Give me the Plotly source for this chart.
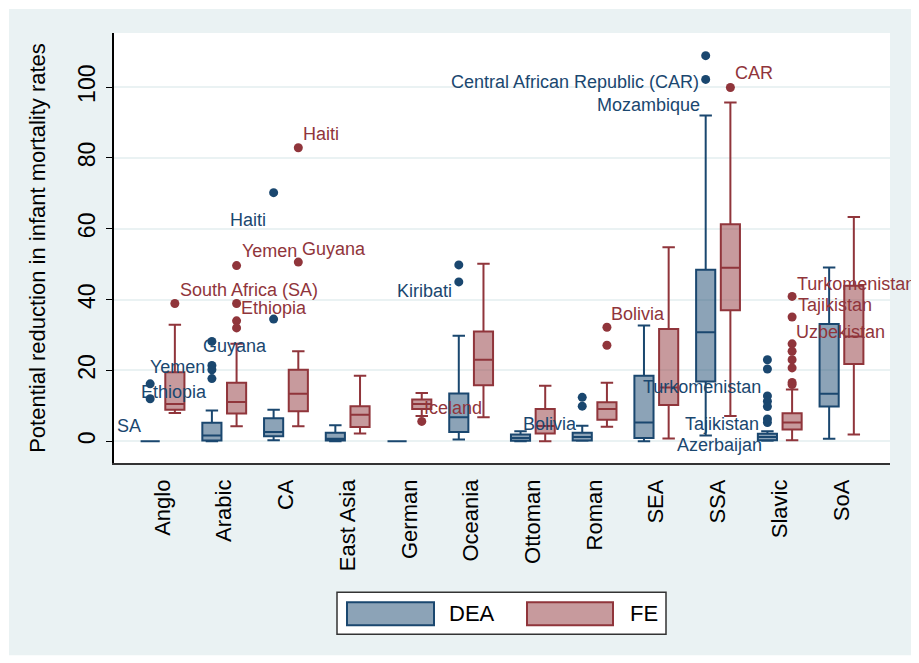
import numpy as np
import plotly.graph_objects as go

# ── Data ──────────────────────────────────────────────────────────────────────
CATEGORIES = ["Anglo", "Arabic", "CA", "East Asia", "German", "Oceania",
              "Ottoman", "Roman", "SEA", "SSA", "Slavic", "SoA"]

DEA_LOWER  = [0.0, 0.0, 0.3, 0.0, 0.0, 0.5, 0.0, 0.1, 0.0, 1.6, 0.1, 0.7]
DEA_Q1     = [0.0, 0.2, 1.4, 0.2, 0.0, 2.6, 0.1, 0.2, 0.9, 16.9, 0.3, 9.8]
DEA_MEDIAN = [0.0, 1.6, 2.6, 0.7, 0.0, 6.8, 0.9, 1.2, 5.3, 30.8, 1.2, 13.4]
DEA_Q3     = [0.0, 5.2, 6.5, 2.4, 0.0, 13.5, 1.9, 2.4, 18.5, 48.4, 2.1, 33.1]
DEA_UPPER  = [0.0, 8.7, 8.9, 4.5, 0.0, 29.8, 2.8, 4.4, 32.7, 92.0, 2.8, 49.1]

FE_LOWER  = [8.0, 4.2, 4.2, 2.2, 7.1, 6.8, 0.0, 4.1, 0.8, 7.1, 0.3, 1.9]
FE_Q1     = [8.9, 7.8, 8.5, 4.0, 9.1, 15.8, 2.2, 6.1, 10.2, 37.0, 3.3, 21.8]
FE_MEDIAN = [10.5, 11.1, 13.4, 7.5, 10.5, 23.0, 4.3, 9.1, 15.2, 49.0, 5.3, 29.6]
FE_Q3     = [19.5, 16.5, 20.2, 9.9, 11.8, 31.0, 9.1, 11.0, 31.7, 61.3, 7.9, 43.9]
FE_UPPER  = [32.9, 27.5, 25.4, 18.5, 13.6, 50.1, 15.7, 16.5, 54.8, 95.7, 14.6, 63.3]

DEA_OUTLIERS = {
    "Anglo":   [16.2, 12.0],
    "Arabic":  [28.2, 21.4, 20.2, 17.7],
    "CA":      [70.2, 34.5],
    "Oceania": [49.8, 45.0],
    "Roman":   [12.4, 9.9],
    "SSA":     [108.9, 102.2],
    "Slavic":  [23.0, 20.4, 12.8, 11.3, 9.8, 6.3, 5.3],
}
FE_OUTLIERS = {
    "Anglo":   [38.9],
    "Arabic":  [49.6, 38.9, 34.0, 32.0],
    "CA":      [82.9, 50.6],
    "German":  [5.6],
    "Roman":   [32.2, 27.1],
    "SSA":     [99.9],
    "Slavic":  [40.9, 35.1, 27.5, 25.4, 23.0, 20.7, 16.6, 16.0],
}

# outlier labels: (text, x in category units, y)
DEA_LABELS = [
    ("SA", -0.54, 4.4), ("Yemen", 0.24, 20.9), ("Ethiopia", 0.19, 13.8),
    ("Guyana", 1.17, 26.8), ("Haiti", 1.38, 62.5), ("Kiribati", 4.24, 42.3),
    ("Bolivia", 6.27, 4.9), ("Central African Republic (CAR)", 6.69, 101.6),
    ("Mozambique", 7.88, 95.0), ("Turkomenistan", 8.74, 15.3),
    ("Tajikistan", 9.06, 5.0), ("Azerbaijan", 9.02, -1.1),
]
FE_LABELS = [
    ("South Africa (SA)", 1.40, 42.8), ("Yemen", 1.73, 53.6),
    ("Guyana", 2.78, 54.3), ("Ethiopia", 1.81, 37.6), ("Haiti", 2.57, 86.8),
    ("Iceland", 4.71, 9.4), ("Bolivia", 7.71, 35.9), ("CAR", 9.58, 103.9),
    ("Turkomenistan", 11.24, 44.5), ("Tajikistan", 10.90, 38.6),
    ("Uzbekistan", 10.99, 30.9),
]

# ── Style ─────────────────────────────────────────────────────────────────────
NAVY = "#1A476F"
MAROON = "#90353B"
BG = "#EAF2F3"
FONT = "Liberation Sans, Arial, Helvetica, sans-serif"
OFFSET = 0.2
BOX_W = 0.31

W, H = 919, 663
PAGE = 8  # body margin of the html page
# plot region in screen pixels: x 114..890, y 33..463.5
M = dict(l=114 - PAGE, r=W - (890 - PAGE), t=33 - PAGE, b=H - (463.5 - PAGE))


def px(x, y):
    """screen pixel -> paper coords (for frame / legend decoration)"""
    pw = W - M["l"] - M["r"]
    ph = H - M["t"] - M["b"]
    return (x - PAGE - M["l"]) / pw, (H - M["b"] - (y - PAGE)) / ph


pos = np.arange(len(CATEGORIES))
fig = go.Figure()

for name, color, fill, sign, lo, q1, med, q3, hi, outl in [
    ("DEA", NAVY, "rgba(26,71,111,0.5)", -1,
     DEA_LOWER, DEA_Q1, DEA_MEDIAN, DEA_Q3, DEA_UPPER, DEA_OUTLIERS),
    ("FE", MAROON, "rgba(144,53,59,0.5)", 1,
     FE_LOWER, FE_Q1, FE_MEDIAN, FE_Q3, FE_UPPER, FE_OUTLIERS),
]:
    x = pos + sign * OFFSET
    fig.add_trace(go.Box(
        name=name, x=x, lowerfence=lo, q1=q1, median=med, q3=q3, upperfence=hi,
        width=BOX_W, whiskerwidth=0.65, boxpoints=False,
        line=dict(color=color, width=2), fillcolor=fill,
        showlegend=False, hoverinfo="skip",
    ))
    ox, oy = [], []
    for cat, vals in outl.items():
        i = CATEGORIES.index(cat)
        ox += [i + sign * OFFSET] * len(vals)
        oy += vals
    fig.add_trace(go.Scatter(
        x=ox, y=oy, mode="markers", showlegend=False, cliponaxis=False,
        marker=dict(color=color, size=9, line=dict(width=0)),
    ))

annotations = []
for labels, color in [(DEA_LABELS, NAVY), (FE_LABELS, MAROON)]:
    for text, lx, ly in labels:
        annotations.append(dict(
            text=text, x=lx, y=ly, xref="x", yref="y", showarrow=False,
            xanchor="center", yanchor="middle",
            font=dict(size=18, color=color, family=FONT),
        ))

# legend drawn as a Stata-style key
x0, y0 = px(337, 593); x1, y1 = px(666, 635)
gx0, gy0 = px(9, 9); gx1, gy1 = px(913, 656)
shapes = [
    dict(type="rect", xref="paper", yref="paper", layer="below",
         x0=gx0, y0=gy0, x1=gx1, y1=gy1, fillcolor=BG, line=dict(width=0)),
    dict(type="rect", xref="paper", yref="paper", layer="below",
         x0=0, y0=0, x1=1, y1=1, fillcolor="white", line=dict(width=0)),
    dict(type="rect", xref="paper", yref="paper", x0=x0, y0=y0, x1=x1, y1=y1,
         fillcolor="white", line=dict(color="#333333", width=1.5)),
]
for (sx0, sx1, tx, label, color, fill) in [
    (347, 434, 447, "DEA", NAVY, "rgba(26,71,111,0.5)"),
    (527, 613, 628, "FE", MAROON, "rgba(144,53,59,0.5)"),
]:
    a0, b0 = px(sx0, 603); a1, b1 = px(sx1, 626)
    shapes.append(dict(type="rect", xref="paper", yref="paper",
                       x0=a0, y0=b0, x1=a1, y1=b1, fillcolor=fill,
                       line=dict(color=color, width=2)))
    tx_, ty_ = px(tx, 614)
    annotations.append(dict(text=label, x=tx_, y=ty_, xref="paper", yref="paper",
                            showarrow=False, xanchor="left", yanchor="middle",
                            font=dict(size=22, color="black", family=FONT)))

fig.update_layout(
    width=W, height=H, margin=M,
    paper_bgcolor="white", plot_bgcolor="white",
    font=dict(family=FONT, color="black"),
    showlegend=False,
    shapes=shapes, annotations=annotations,
    xaxis=dict(
        range=[-0.786, 11.786], tickmode="array", tickvals=pos, ticktext=CATEGORIES,
        tickangle=-90, tickfont=dict(size=22), ticks="", showgrid=False,
        zeroline=False, showline=True, linecolor="#333333", linewidth=1.5,
        ticklabelstandoff=6, automargin=False,
    ),
    yaxis=dict(
        range=[-6.15, 115.3], tickvals=[0, 20, 40, 60, 80, 100],
        tickangle=-90, tickfont=dict(size=23), ticks="outside", ticklen=6,
        tickcolor="black", showline=True, linecolor="black", linewidth=1.5,
        gridcolor=BG, gridwidth=1.5, zeroline=False, automargin=False,
        ticklabelstandoff=2,
        title=dict(text="Potential reduction in infant mortality rates",
                   font=dict(size=22), standoff=22),
    ),
)

fig.write_html("out.html")
